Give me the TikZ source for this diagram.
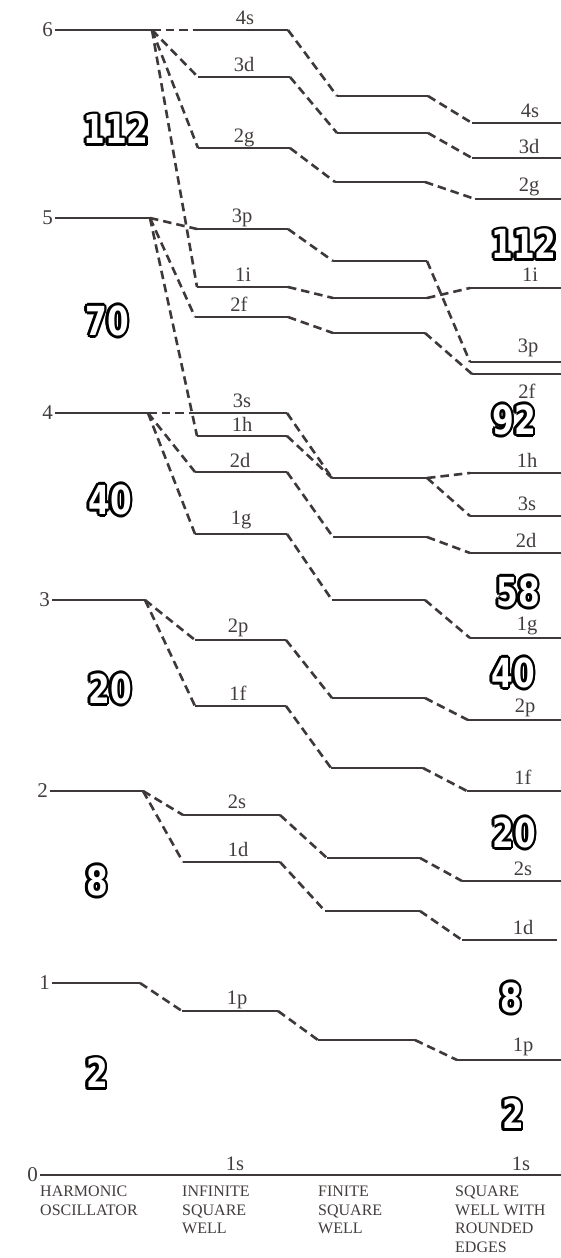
\documentclass[tikz,border=0pt]{standalone}
\usepackage{fontspec}
\setmainfont{Liberation Serif}
\newfontfamily\bigf{DejaVu Sans}
\definecolor{ink}{HTML}{3E3838}
\definecolor{txt}{HTML}{433D3D}
\tikzset{
 lev/.style={draw=ink,line width=2.6pt},
 conn/.style={draw=ink,line width=2.6pt,dash pattern=on 8.5pt off 5pt},
 orb/.style={text=txt,font=\fontsize{20.5}{20.5}\selectfont,inner sep=0pt,anchor=base},
 numlab/.style={text=txt,font=\fontsize{21}{21}\selectfont,inner sep=2pt,anchor=east},
 hdr/.style={text=txt,font=\fontsize{16}{18.5}\selectfont,align=left,inner sep=0pt,anchor=north west},
 bignum/.style={font=\bigf\bfseries\fontsize{40}{40}\selectfont,inner sep=0pt},
}
\newcommand\lvl[4]{\coordinate (#1L) at (#2,#4);\coordinate (#1R) at (#3,#4);\draw[lev] (#1L) -- (#1R);}
\newcommand\outnum[3]{%
  \foreach \a [count=\k] in {0,30,...,330}{\node[bignum,text=black,shift={(\a:2.6pt)}] (#1o\k) at #2 {\scalebox{0.78}[1]{#3}};}
  \node[bignum,text=white] (#1) at #2 {\scalebox{0.78}[1]{#3}};}
\begin{document}
\begin{tikzpicture}[x=1pt,y=-1pt]
\fill[white] (0,0) rectangle (561,1258);
\useasboundingbox (0,0) rectangle (561,1258);
% harmonic oscillator
\lvl{h6}{55}{152}{30}
\lvl{h5}{55}{150}{218}
\lvl{h4}{55}{148}{413}
\lvl{h3}{52}{145}{600}
\lvl{h2}{50}{143}{791}
\lvl{h1}{52}{140}{983}
\lvl{h0}{40}{561}{1175}
\node[numlab] (n6) at (h6L) {6};
\node[numlab] (n5) at (h5L) {5};
\node[numlab] (n4) at (h4L) {4};
\node[numlab] (n3) at (h3L) {3};
\node[numlab] (n2) at (h2L) {2};
\node[numlab] (n1) at (h1L) {1};
\node[numlab] (n0) at (h0L) {0};
% infinite well
\lvl{i4s}{200}{288}{30}
\lvl{i3d}{198}{290}{77}
\lvl{i2g}{198}{290}{148}
\lvl{i3p}{197}{288}{229}
\lvl{i1i}{197}{288}{287}
\lvl{i2f}{195}{288}{317}
\lvl{i3s}{195}{287}{413}
\lvl{i1h}{197}{287}{436}
\lvl{i2d}{195}{287}{472}
\lvl{i1g}{195}{287}{534}
\lvl{i2p}{195}{286}{640}
\lvl{i1f}{195}{286}{706}
\lvl{i2s}{183}{280}{815}
\lvl{i1d}{183}{280}{862}
\lvl{i1p}{182}{278}{1011}
% finite well
\lvl{f4s}{337}{428}{96}
\lvl{f3d}{337}{428}{133}
\lvl{f2g}{335}{425}{182}
\lvl{f3p}{333}{427}{261}
\lvl{f1i}{333}{427}{298}
\lvl{f2f}{333}{425}{333}
\lvl{fhs}{332}{427}{478}
\lvl{f2d}{333}{427}{537}
\lvl{f1g}{332}{425}{600}
\lvl{f2p}{332}{425}{698}
\lvl{f1f}{331}{423}{768}
\lvl{f2s}{327}{420}{858}
\lvl{f1d}{325}{420}{911}
\lvl{f1p}{318}{415}{1040}
% rounded well
\lvl{r4s}{472}{561}{123}
\lvl{r3d}{472}{561}{158}
\lvl{r2g}{475}{561}{199}
\lvl{r1i}{470}{561}{288}
\lvl{r3p}{470}{561}{362}
\lvl{r2f}{472}{561}{374}
\lvl{r1h}{470}{561}{473}
\lvl{r3s}{470}{561}{516}
\lvl{r2d}{470}{561}{553}
\lvl{r1g}{470}{561}{638}
\lvl{r2p}{468}{561}{720}
\lvl{r1f}{467}{561}{791}
\lvl{r2s}{462}{561}{881}
\lvl{r1d}{462}{557}{940}
\lvl{r1p}{457}{561}{1060}
% connectors HO -> infinite
\draw[conn] (h6R) -- (i4sL);
\draw[conn] (h6R) -- (i3dL);
\draw[conn] (h6R) -- (i2gL);
\draw[conn] (h6R) -- (i1iL);
\draw[conn] (h5R) -- (i3pL);
\draw[conn] (h5R) -- (i2fL);
\draw[conn] (h5R) -- (i1hL);
\draw[conn] (h4R) -- (i3sL);
\draw[conn] (h4R) -- (i2dL);
\draw[conn] (h4R) -- (i1gL);
\draw[conn] (h3R) -- (i2pL);
\draw[conn] (h3R) -- (i1fL);
\draw[conn] (h2R) -- (i2sL);
\draw[conn] (h2R) -- (i1dL);
\draw[conn] (h1R) -- (i1pL);
% infinite -> finite
\draw[conn] (i4sR) -- (f4sL);
\draw[conn] (i3dR) -- (f3dL);
\draw[conn] (i2gR) -- (f2gL);
\draw[conn] (i3pR) -- (f3pL);
\draw[conn] (i1iR) -- (f1iL);
\draw[conn] (i2fR) -- (f2fL);
\draw[conn] (i3sR) -- (fhsL);
\draw[conn] (i1hR) -- (fhsL);
\draw[conn] (i2dR) -- (f2dL);
\draw[conn] (i1gR) -- (f1gL);
\draw[conn] (i2pR) -- (f2pL);
\draw[conn] (i1fR) -- (f1fL);
\draw[conn] (i2sR) -- (f2sL);
\draw[conn] (i1dR) -- (f1dL);
\draw[conn] (i1pR) -- (f1pL);
% finite -> rounded
\draw[conn] (f4sR) -- (r4sL);
\draw[conn] (f3dR) -- (r3dL);
\draw[conn] (f2gR) -- (r2gL);
\draw[conn] (f3pR) -- (r3pL);
\draw[conn] (f1iR) -- (r1iL);
\draw[conn] (f2fR) -- (r2fL);
\draw[conn] (fhsR) -- (r1hL);
\draw[conn] (fhsR) -- (r3sL);
\draw[conn] (f2dR) -- (r2dL);
\draw[conn] (f1gR) -- (r1gL);
\draw[conn] (f2pR) -- (r2pL);
\draw[conn] (f1fR) -- (r1fL);
\draw[conn] (f2sR) -- (r2sL);
\draw[conn] (f1dR) -- (r1dL);
\draw[conn] (f1pR) -- (r1pL);
% labels infinite
\node[orb] (ti4s) at (245,24) {4s};
\node[orb] (ti3d) at (244,71) {3d};
\node[orb] (ti2g) at (244,142) {2g};
\node[orb] (ti3p) at (242,222) {3p};
\node[orb] (ti1i) at (243,281) {1i};
\node[orb] (ti2f) at (239,311) {2f};
\node[orb] (ti3s) at (242,407) {3s};
\node[orb] (ti1h) at (242,431) {1h};
\node[orb] (ti2d) at (240,467) {2d};
\node[orb] (ti1g) at (241,524) {1g};
\node[orb] (ti2p) at (238,632) {2p};
\node[orb] (ti1f) at (238,700) {1f};
\node[orb] (ti2s) at (237,808) {2s};
\node[orb] (ti1d) at (238,856) {1d};
\node[orb] (ti1p) at (237,1004) {1p};
\node[orb] (ti1s) at (235,1170) {1s};
% labels rounded
\node[orb] (tr4s) at (530,117) {4s};
\node[orb] (tr3d) at (529,153) {3d};
\node[orb] (tr2g) at (529,191) {2g};
\node[orb] (tr1i) at (530,281) {1i};
\node[orb] (tr3p) at (528,352) {3p};
\node[orb] (tr2f) at (527,398) {2f};
\node[orb] (tr1h) at (527,467) {1h};
\node[orb] (tr3s) at (527,510) {3s};
\node[orb] (tr2d) at (526,547) {2d};
\node[orb] (tr1g) at (527,630) {1g};
\node[orb] (tr2p) at (525,712) {2p};
\node[orb] (tr1f) at (523,784) {1f};
\node[orb] (tr2s) at (523,875) {2s};
\node[orb] (tr1d) at (523,934) {1d};
\node[orb] (tr1p) at (523,1051) {1p};
\node[orb] (tr1s) at (521,1170) {1s};
% headers
\node[hdr] (hHO) at (40,1186) {HARMONIC\\OSCILLATOR};
\node[hdr] (hIN) at (182,1186) {INFINITE\\SQUARE\\WELL};
\node[hdr] (hFI) at (318,1186) {FINITE\\SQUARE\\WELL};
\node[hdr] (hRO) at (455,1186) {SQUARE\\WELL WITH\\ROUNDED\\EDGES};
% magic numbers
\outnum{mA}{(116,129)}{112}
\outnum{mB}{(107,321)}{70}
\outnum{mC}{(110,500)}{40}
\outnum{mD}{(110,689)}{20}
\outnum{mE}{(97,881)}{8}
\outnum{mF}{(97,1073)}{2}
\outnum{mG}{(524,244)}{112}
\outnum{mH}{(514,420)}{92}
\outnum{mI}{(518,592)}{58}
\outnum{mJ}{(513,673)}{40}
\outnum{mK}{(514,833)}{20}
\outnum{mL}{(511,998)}{8}
\outnum{mM}{(513,1114)}{2}
\end{tikzpicture}
\end{document}
